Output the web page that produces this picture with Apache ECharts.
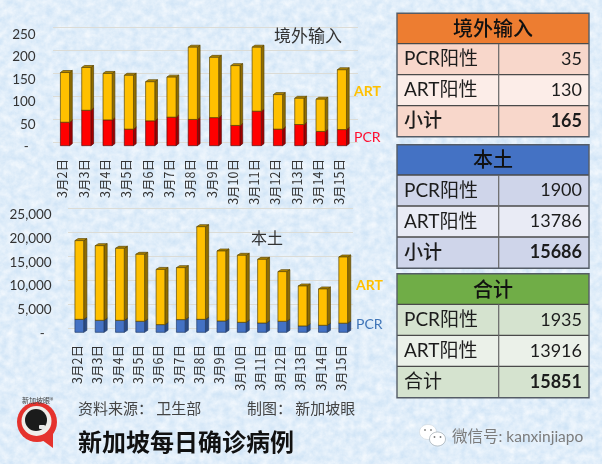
<!DOCTYPE html>
<html><head><meta charset="utf-8">
<script src="https://cdn.jsdelivr.net/npm/echarts@6/dist/echarts.min.js"></script>
<style>
html,body{margin:0;padding:0;width:602px;height:464px;overflow:hidden;background:#d6e7f6}
#bg{position:absolute;left:0;top:0}
#c{position:absolute;left:0;top:0;width:602px;height:464px}
</style></head><body>
<svg id="bg" width="602" height="464" xmlns="http://www.w3.org/2000/svg">
<filter id="tex2" x="0" y="0" width="100%" height="100%">
<feTurbulence type="fractalNoise" baseFrequency="0.13" numOctaves="4" seed="11" result="n"/>
<feColorMatrix in="n" type="matrix" values="0 0 0 0 0.95  0 0 0 0 0.975  0 0 0 0 1  1.1 0 0 0 -0.15"/>
</filter>
<rect width="602" height="464" fill="#d0e4f6"/>
<rect width="602" height="464" filter="url(#tex2)"/>
</svg>
<div id="c"></div>
<script>
const dates = ['3月2日','3月3日','3月4日','3月5日','3月6日','3月7日','3月8日','3月9日','3月10日','3月11日','3月12日','3月13日','3月14日','3月15日'];
const importPCR = [51,77,56,36,54,62,57,61,44,75,36,46,31,35];
const importART = [108,93,101,117,85,87,157,131,130,139,75,57,70,130];
const localPCR = [2700,2500,2500,2300,1600,2640,2700,2360,2080,1940,2300,1320,1460,1900];
const localART = [16400,15550,15000,13950,11500,10830,19300,14580,13960,13260,10340,8330,7570,13786];
const table1 = {title:'境外输入', rows:[['PCR阳性','35'],['ART阳性','130'],['小计','165']]};
const table2 = {title:'本土', rows:[['PCR阳性','1900'],['ART阳性','13786'],['小计','15686']]};
const table3 = {title:'合计', rows:[['PCR阳性','1935'],['ART阳性','13916'],['合计','15851']]};

const FONT = "Lato,'Noto Sans CJK SC',sans-serif";
const CJK = "'Noto Sans CJK SC',sans-serif";

function bar3d(xAxisIndex, yAxisIndex, starts, ends, colors, dx, dy, z){
  return {
    type:'custom', xAxisIndex, yAxisIndex, z, clip:false,
    encode:{x:0,y:[1,2]},
    data: starts.map((s,i)=>[i,s,ends[i]]),
    renderItem(params, api){
      const bw = api.size([1,0])[0]*0.43;
      const p0 = api.coord([api.value(0), api.value(1)]);
      const p1 = api.coord([api.value(0), api.value(2)]);
      const x0 = p0[0]-bw/2, x1 = p0[0]+bw/2, yb = p0[1], yt = p1[1];
      const edge = {stroke:colors.edge, lineWidth:0.7};
      return {type:'group', children:[
        {type:'polygon', shape:{points:[[x1,yb],[x1+dx,yb-dy],[x1+dx,yt-dy],[x1,yt]]}, style:{fill:colors.side,...edge}},
        {type:'polygon', shape:{points:[[x0,yt],[x1,yt],[x1+dx,yt-dy],[x0+dx,yt-dy]]}, style:{fill:colors.top,...edge}},
        {type:'rect', shape:{x:x0,y:yt,width:bw,height:yb-yt}, style:{fill:colors.front,...edge}}
      ]};
    }
  };
}
const gold = {front:'#FFC000',side:'#8F6C00',top:'#B38700',edge:'#5a4604'};
const red = {front:'#FF0000',side:'#A00000',top:'#C00000',edge:'#5f0a0a'};
const blue = {front:'#4472C4',side:'#2B4C86',top:'#375A9E',edge:'#223c69'};

function add(a,b){return a.map((v,i)=>v+b[i]);}
const zeros = dates.map(()=>0);

function txt(x,y,text,font,fill,align,extra){
  return {type:'text', silent:true, z:20, style:Object.assign({x,y,text,font,fill,align:align||'left',verticalAlign:'middle'},extra||{})};
}
function drawTable(t, ys, colors){
  const L=397,R=589,M=498.7, els=[];
  els.push({type:'rect',z:10,shape:{x:L,y:ys[0],width:R-L,height:ys[1]-ys[0]},style:{fill:colors.head}});
  for(let i=0;i<3;i++){
    els.push({type:'rect',z:10,shape:{x:L,y:ys[i+1],width:R-L,height:ys[i+2]-ys[i+1]},style:{fill:i===1?colors.light:colors.dark}});
  }
  const ln=(x1,y1,x2,y2,c,w)=>({type:'line',z:11,shape:{x1,y1,x2,y2},style:{stroke:c,lineWidth:w}});
  for(let i=1;i<4;i++) els.push(ln(L,ys[i],R,ys[i],'#4a4a4a',1.3));
  els.push(ln(M,ys[1],M,ys[4],'#666',1.2));
  els.push({type:'rect',z:12,shape:{x:L,y:ys[0],width:R-L,height:ys[4]-ys[0]},style:{fill:'none',stroke:'#555c66',lineWidth:1.4}});
  els.push(txt((L+R)/2,(ys[0]+ys[1])/2,t.title,"500 20px "+CJK,'#111','center'));
  t.rows.forEach((r,i)=>{
    const cy=(ys[i+1]+ys[i+2])/2, last=i===2;
    const boldLabel = last && r[0]==='小计';
    els.push(txt(404,cy,r[0],(boldLabel?'500 ':'')+"19px "+FONT,'#1c1c1c','left'));
    els.push(txt(582,cy,r[1],(last?'bold ':'')+"18px "+FONT,'#1c1c1c','right'));
  });
  return els;
}

const graphics = [
  ...drawTable(table1,[13.3,43.7,74.7,105.7,136.7],{head:'#ED7D31',dark:'#F8D7CB',light:'#FCEDE8'}),
  ...drawTable(table2,[144.7,175,206,237,268.3],{head:'#4472C4',dark:'#CFD5EA',light:'#E9EBF5'}),
  ...drawTable(table3,[273.7,304.3,335.3,366.3,397.7],{head:'#70AD47',dark:'#D5E3CF',light:'#EBF1E9'}),
  txt(274,36,'境外输入',"17px "+CJK,'#333'),
  txt(251,238,'本土',"16px "+CJK,'#333'),
  txt(354,91,'ART',"bold 14px "+FONT,'#FFC000'),
  txt(354,137,'PCR',"14px "+FONT,'#FF0F2F'),
  txt(356,285,'ART',"bold 14px "+FONT,'#FFC000'),
  txt(356,324,'PCR',"14px "+FONT,'#3F75B8'),
  txt(78,408,'资料来源： 卫生部',"15px "+CJK,'#444'),
  txt(247,408,'制图： 新加坡眼',"15px "+CJK,'#444'),
  txt(78,442,'新加坡每日确诊病例',"bold 24px "+CJK,'#111'),
  // logo
  txt(22,400,'新加坡眼®',"7px "+CJK,'#444'),
  {type:'polygon',z:15,shape:{points:[[42,440],[53,448],[53,432]]},style:{fill:'#E5322D'}},
  {type:'circle',z:15,shape:{cx:37,cy:422,r:20},style:{fill:'#E5322D'}},
  {type:'circle',z:16,shape:{cx:36.5,cy:421,r:15},style:{fill:'#EFEDEA'}},
  {type:'circle',z:17,shape:{cx:36,cy:420,r:11},style:{fill:'#1B1B1B'}},
  {type:'rect',z:18,shape:{x:39,y:425,width:6,height:4,r:1},style:{fill:'#E8E8E8'}},
  // WeChat watermark
  {type:'ellipse',z:15,shape:{cx:428,cy:432,rx:8.5,ry:7.5},style:{fill:'#ffffff',stroke:'#c8d0d6',lineWidth:0.5}},
  {type:'ellipse',z:15,shape:{cx:437.5,cy:439,rx:8,ry:7},style:{fill:'#ffffff',stroke:'#8f9aa3',lineWidth:0.6}},
  {type:'circle',z:16,shape:{cx:425,cy:430,r:1},style:{fill:'#8a8a8a'}},
  {type:'circle',z:16,shape:{cx:431,cy:430,r:1},style:{fill:'#8a8a8a'}},
  {type:'circle',z:16,shape:{cx:434.5,cy:437,r:0.9},style:{fill:'#777'}},
  {type:'circle',z:16,shape:{cx:440.5,cy:437,r:0.9},style:{fill:'#777'}},
  txt(452,437,'微信号: kanxinjiapo',"15.5px "+FONT,'#7c7c7c','left',{shadowColor:'#fff',shadowBlur:3}),
];

const gridLine = {show:true,lineStyle:{color:'#dcdcd6',width:1}};
const noAxis = {axisLine:{show:false},axisTick:{show:false},axisLabel:{show:false},splitLine:{show:false}};
const xLab = m => ({show:true,rotate:90,interval:0,margin:m,fontSize:12.5,color:'#333',fontFamily:CJK});

const option = {
  backgroundColor:'transparent',
  animation:false,
  grid:[
    {left:53,top:27.3,width:305,height:115},        // 0 back wall, top chart
    {left:54.35,top:30.67,width:298.2,height:115},  // 1 front plane, top chart
    {left:52,top:34.3,width:298.2,height:112.7},    // 2 labels, top chart
    {left:68,top:208,width:285,height:120},         // 3 back wall, bottom chart
    {left:69.15,top:212.3,width:284.2,height:120},  // 4 front plane, bottom chart
    {left:67.2,top:214.7,width:284.2,height:118.7}, // 5 labels, bottom chart
  ],
  xAxis:[0,1,2,3,4,5].map(i=>({
    gridIndex:i,type:'category',data:dates,
    axisLine:{show:false},axisTick:{show:false},splitLine:{show:false},
    axisLabel: i===2 ? xLab(12) : i===5 ? xLab(11.6) : {show:false}
  })),
  yAxis:[
    {gridIndex:0,type:'value',min:0,max:250,interval:50,...noAxis,splitLine:gridLine},
    {gridIndex:1,type:'value',min:0,max:250,interval:50,...noAxis},
    {gridIndex:2,type:'value',min:0,max:250,interval:50,...noAxis,
      axisLabel:{show:true,margin:16.3,fontSize:13.5,color:'#333',fontFamily:FONT,formatter:v=>v===0?'-  ':String(v)}},
    {gridIndex:3,type:'value',min:0,max:25000,interval:5000,...noAxis,splitLine:gridLine},
    {gridIndex:4,type:'value',min:0,max:25000,interval:5000,...noAxis},
    {gridIndex:5,type:'value',min:0,max:25000,interval:5000,...noAxis,
      axisLabel:{show:true,margin:15.5,fontSize:13.5,color:'#333',fontFamily:FONT,
        formatter:v=>v===0?'-  ':v.toLocaleString('en-US')}},
  ],
  series:[
    bar3d(1,1,zeros,importPCR,red,2.7,2,2),
    bar3d(1,1,importPCR,add(importPCR,importART),gold,2.7,2,3),
    bar3d(4,4,zeros,localPCR,blue,3.2,2,2),
    bar3d(4,4,localPCR,add(localPCR,localART),gold,3.2,2,3),
  ],
  graphic:{elements:graphics}
};
const chart = echarts.init(document.getElementById('c'));
chart.setOption(option);
</script>
</body></html>
